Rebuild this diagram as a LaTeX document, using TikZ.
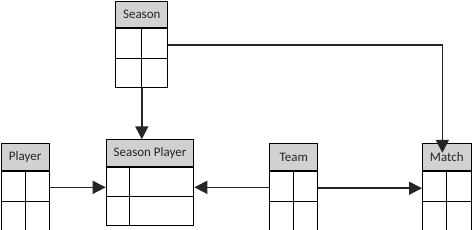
\documentclass[tikz,border=0pt]{standalone}
\usepackage{fontspec}
\setmainfont{Carlito}
\usetikzlibrary{arrows.meta,positioning,calc}

\begin{document}
\begin{tikzpicture}[
  x=1pt, y=-1pt,
  font=\fontsize{13}{15}\selectfont,
  headbox/.style={draw=black, fill=black!18, line width=1pt, anchor=north west, inner sep=0pt, minimum height=27pt, text=black!85},
  cellbox/.style={draw=black, line width=1pt, anchor=north, inner sep=0pt, minimum height=58.4pt},
  sepline/.style={line width=1pt},
  link/.style={-{Triangle[length=13pt,width=13pt]}, line width=1.6pt, draw=black!85},
]
\useasboundingbox (0,0) rectangle (472,230);

% ---------- tables ----------
\node[headbox, minimum width=52pt, minimum height=25.7pt] (seasonH) at (115.3,1.3) {Season};
\node[cellbox, minimum width=52pt, minimum height=59.3pt] (season) at (seasonH.south) {};
\draw[sepline] (season.west) -- (season.east);
\draw[sepline] (season.north) -- (season.south);

\node[headbox, minimum width=48.2pt] (playerH) at (0.5,143.3) {Player};
\node[cellbox, minimum width=48.2pt] (player) at (playerH.south) {};
\draw[sepline] (player.west) -- (player.east);
\draw[sepline] (player.north) -- (player.south);

\node[headbox, minimum width=87.6pt] (spH) at (105.7,139.3) {Season Player};
\node[cellbox, minimum width=87.6pt, minimum height=58pt] (sp) at (spH.south) {};
\draw[sepline] (sp.west) -- (sp.east);
\draw[sepline] ($(sp.north west)+(23.6,0)$) -- ($(sp.south west)+(23.6,0)$);

\node[headbox, minimum width=48pt] (teamH) at (269.3,143.3) {Team};
\node[cellbox, minimum width=48pt] (team) at (teamH.south) {};
\draw[sepline] (team.west) -- (team.east);
\draw[sepline] (team.north) -- (team.south);

\node[headbox, minimum width=48.7pt] (matchH) at (422,143.3) {Match};
\node[cellbox, minimum width=48.7pt] (match) at (matchH.south) {};
\draw[sepline] (match.west) -- (match.east);
\draw[sepline] (match.north) -- (match.south);

% ---------- links ----------
\coordinate (seasonR) at ($(season.north east)!0.28!(season.south east)$);
\coordinate (matchIn) at ($(matchH.north)+(-4.5,9.5)$);
\coordinate (playerR) at ($(player.north east)!0.27!(player.south east)$);
\coordinate (teamL) at ($(team.north west)!0.27!(team.south west)$);
\coordinate (teamR) at ($(team.north east)!0.285!(team.south east)$);

\draw[link] (season.south) -- (season.south |- spH.north);
\draw[link] (seasonR) -| (matchIn);
\draw[link] (playerR) -- (playerR -| sp.west);
\draw[link] (teamL) -- (teamL -| sp.east);
\draw[link] (teamR) -- (teamR -| match.west);
\end{tikzpicture}
\end{document}
